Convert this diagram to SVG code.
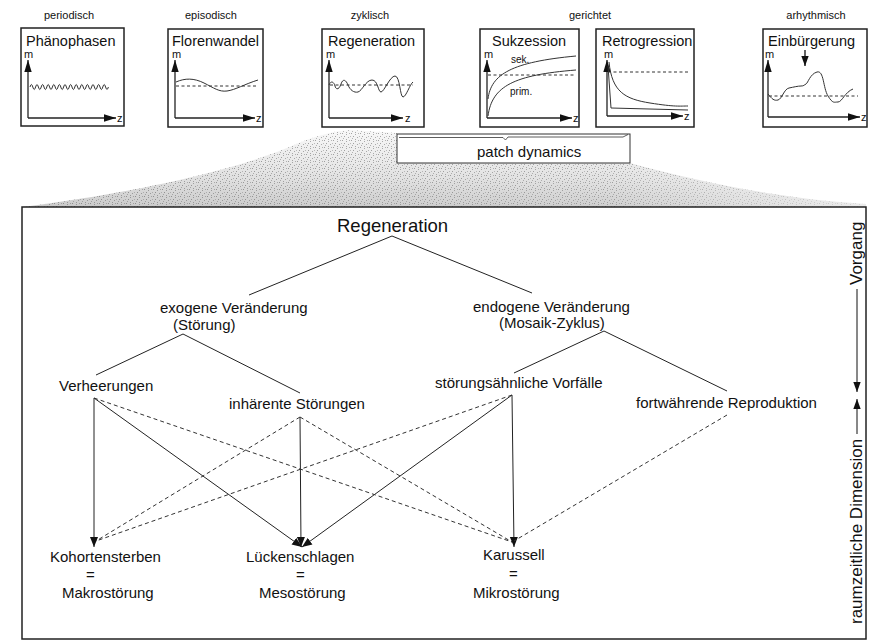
<svg xmlns="http://www.w3.org/2000/svg" width="874" height="641" viewBox="0 0 874 641">
  <style>
    text { font-family: "Liberation Sans", Arial, sans-serif; fill: #111; }
    .cat { font-size: 11px; text-anchor: middle; }
    .ptitle { font-size: 14.5px; }
    .axl { font-size: 11px; }
    .lbl { font-size: 15px; }
    .small { font-size: 10px; }
    .frame { fill: #fff; stroke: #222; stroke-width: 1.5; }
    .axis { fill: none; stroke: #222; stroke-width: 1.3; marker-end: url(#axhead); }
    .curve { fill: none; stroke: #333; stroke-width: 1; }
    .ref { fill: none; stroke: #333; stroke-width: 1; stroke-dasharray: 3 2.5; }
    .edge { fill: none; stroke: #222; stroke-width: 1; }
    .flow { fill: none; stroke: #222; stroke-width: 1; marker-end: url(#head); }
    .dash { fill: none; stroke: #333; stroke-width: 1; stroke-dasharray: 4 3; }
  </style>
  <defs>
    <marker id="axhead" viewBox="0 0 12 10" refX="12" refY="5" markerWidth="12" markerHeight="10" markerUnits="userSpaceOnUse" orient="auto">
      <path d="M0,1.3 L12,5 L0,8.7 Z" fill="#111"/>
    </marker>
    <marker id="head" viewBox="0 0 10 10" refX="10" refY="5" markerWidth="10" markerHeight="10" markerUnits="userSpaceOnUse" orient="auto">
      <path d="M0,1 L10,5 L0,9 Z" fill="#111"/>
    </marker>
    <marker id="vhead" viewBox="0 0 10 10" refX="10" refY="5" markerWidth="10" markerHeight="10" markerUnits="userSpaceOnUse" orient="auto">
      <path d="M0,1.3 L10,5 L0,8.7 Z" fill="#111"/>
    </marker>
    <!-- irregular dot tile for the stippled fan -->
    <pattern id="stipple" width="9" height="7" patternUnits="userSpaceOnUse">
      <rect x="0" y="0" width="1" height="1" fill="#555"/>
      <rect x="4" y="1" width="1" height="1" fill="#666"/>
      <rect x="7" y="0" width="1" height="1" fill="#777"/>
      <rect x="2" y="3" width="1" height="1" fill="#555"/>
      <rect x="6" y="4" width="1" height="1" fill="#666"/>
      <rect x="8" y="3" width="1" height="1" fill="#888"/>
      <rect x="1" y="5" width="1" height="1" fill="#777"/>
      <rect x="4" y="6" width="1" height="1" fill="#666"/>
    </pattern>
    <linearGradient id="haze" x1="0" y1="0" x2="0" y2="1">
      <stop offset="0" stop-color="#aaa" stop-opacity="0.1"/>
      <stop offset="0.6" stop-color="#999" stop-opacity="0.3"/>
      <stop offset="1" stop-color="#888" stop-opacity="0.45"/>
    </linearGradient>
    <linearGradient id="fade" x1="0" y1="0" x2="1" y2="0">
      <stop offset="0" stop-color="#fff" stop-opacity="1"/>
      <stop offset="0.7" stop-color="#fff" stop-opacity="0.9"/>
      <stop offset="1" stop-color="#fff" stop-opacity="0.35"/>
    </linearGradient>
    <mask id="fanmask">
      <rect x="0" y="120" width="874" height="90" fill="url(#fade)"/>
    </mask>
  </defs>

  <!-- category labels above the panels -->
  <g id="categories">
    <text class="cat" x="69" y="19">periodisch</text>
    <text class="cat" x="211" y="19">episodisch</text>
    <text class="cat" x="370" y="19">zyklisch</text>
    <text class="cat" x="590" y="19">gerichtet</text>
    <text class="cat" x="816" y="19">arhythmisch</text>
  </g>

  <!-- small time-course panels -->
  <g id="panel-phaenophasen">
    <rect class="frame" x="21" y="28" width="103" height="98"/>
    <text class="ptitle" x="26" y="46">Phänophasen</text>
    <text class="axl" x="24" y="58">m</text>
    <path class="axis" d="M28,118 V60"/>
    <path class="axis" d="M28,118 H116"/>
    <text class="axl" x="117" y="122">z</text>
    <path class="curve" d="M30,87 q1.4,-5 2.8,0 t2.8,0 t2.8,0 t2.8,0 t2.8,0 t2.8,0 t2.8,0 t2.8,0 t2.8,0 t2.8,0 t2.8,0 t2.8,0 t2.8,0 t2.8,0 t2.8,0 t2.8,0 t2.8,0 t2.8,0 t2.8,0 t2.8,0 t2.8,0 t2.8,0 t2.8,0 t2.8,0 t2.8,0 t2.8,0 t2.8,0 t2.8,0"/>
  </g>

  <g id="panel-florenwandel">
    <rect class="frame" x="168" y="29" width="95" height="98"/>
    <text class="ptitle" x="172" y="46">Florenwandel</text>
    <text class="axl" x="172" y="58">m</text>
    <path class="axis" d="M175,118 V60"/>
    <path class="axis" d="M175,118 H255"/>
    <text class="axl" x="256" y="122">z</text>
    <path class="ref" d="M176,86 H258"/>
    <path class="curve" d="M176,82 C185,78 194,78 204,83 S219,92 227,91 S245,84 258,80"/>
  </g>

  <g id="panel-regeneration">
    <rect class="frame" x="322" y="29" width="102" height="98"/>
    <text class="ptitle" x="328" y="46">Regeneration</text>
    <text class="axl" x="326" y="58">m</text>
    <path class="axis" d="M329,118 V60"/>
    <path class="axis" d="M329,118 H403"/>
    <text class="axl" x="405" y="122">z</text>
    <path class="ref" d="M330,85 H413"/>
    <path class="curve" d="M329,85 C331,80 334,82 335,86 S339,90 341,84 S346,80 348,85 S354,93 358,92 S366,80 372,80 S378,92 381,92 S390,76 395,76 S400,97 403,97 S410,84 413,82"/>
  </g>

  <g id="panel-sukzession">
    <rect class="frame" x="480" y="29" width="99" height="98"/>
    <text class="ptitle" x="492" y="46">Sukzession</text>
    <text class="axl" x="484" y="58">m</text>
    <path class="axis" d="M487,118 V60"/>
    <path class="axis" d="M487,118 H572"/>
    <text class="axl" x="573" y="122">z</text>
    <path class="ref" d="M488,75 H576"/>
    <path class="curve" d="M488,99 C491,74 512,62 576,56"/>
    <path class="curve" d="M488,116 C492,86 514,75 576,70"/>
    <text class="small" x="511" y="63">sek.</text>
    <text class="small" x="510" y="95">prim.</text>
  </g>

  <g id="panel-retrogression">
    <rect class="frame" x="596" y="29" width="98" height="98"/>
    <text class="ptitle" x="602" y="46">Retrogression</text>
    <text class="axl" x="604" y="58">m</text>
    <path class="axis" d="M607,116 V60"/>
    <path class="axis" d="M607,116 H683"/>
    <text class="axl" x="684" y="120">z</text>
    <path class="ref" d="M608,72 H690"/>
    <path class="curve" d="M609,62 C612,92 625,99 650,103 S680,106 688,106" stroke="#555"/>
    <path class="curve" d="M608,66 L611,108 L688,110"/>
  </g>

  <g id="panel-einbuergerung">
    <rect class="frame" x="763" y="29" width="104" height="98"/>
    <text class="ptitle" x="768" y="46">Einbürgerung</text>
    <text class="axl" x="765" y="58">m</text>
    <path class="axis" d="M768,117 V60"/>
    <path class="axis" d="M768,117 H860"/>
    <text class="axl" x="861" y="121">z</text>
    <path class="ref" d="M769,96 H858"/>
    <path class="curve" d="M768,94 C772,99 774,101 778,100 S784,89 789,88 S798,86 801,86 S804,85 806,84 S810,74 817,72 S823,88 828,96 S834,102 838,102 S845,92 853,89"/>
    <path d="M805,50 V66" stroke="#111" stroke-width="1.3" marker-end="url(#vhead)"/>
  </g>

  <!-- stippled fan linking the panels to the scheme below -->
  <g id="fan" mask="url(#fanmask)">
    <path d="M22,207 C110,196 220,176 292,146 C310,138 330,131 350,130 L397,133 L397,163 L630,163 C700,182 780,199 866,204 L866,207 Z" fill="url(#haze)"/>
    <path d="M22,207 C110,196 220,176 292,146 C310,138 330,131 350,130 L397,133 L397,163 L630,163 C700,182 780,199 866,204 L866,207 Z" fill="url(#stipple)" opacity="0.55"/>
  </g>

  <g id="patch-dynamics">
    <rect x="397" y="134" width="233" height="29" fill="#fff" stroke="#333" stroke-width="1"/>
    <path d="M399,137.5 H503 L505.5,140 L508,137 H623 L628,134.5" fill="none" stroke="#333" stroke-width="0.8"/>
    <text class="lbl" x="477" y="157">patch dynamics</text>
  </g>

  <!-- main scheme frame -->
  <rect id="scheme-frame" x="22" y="207" width="844" height="432" fill="#fff" stroke="#222" stroke-width="1.5"/>

  <!-- connectors -->
  <g id="connectors">
    <path class="edge" d="M392,236 L249,295"/>
    <path class="edge" d="M392,236 L532,293"/>
    <path class="edge" d="M183,334 L96,375"/>
    <path class="edge" d="M183,334 L300,393"/>
    <path class="edge" d="M604,331 L514,373"/>
    <path class="edge" d="M604,331 L727,391"/>

    <path class="flow" d="M94,398 L94,547"/>
    <path class="flow" d="M94,398 L302,547"/>
    <path class="flow" d="M300,417 L301,547"/>
    <path class="flow" d="M512,395 L302,547"/>
    <path class="flow" d="M512,395 L514,547"/>

    <path class="dash" d="M94,398 L512,542"/>
    <path class="dash" d="M300,417 L96,541"/>
    <path class="dash" d="M300,417 L512,542"/>
    <path class="dash" d="M512,395 L96,541"/>
    <path class="dash" d="M727,415 L514,541"/>
  </g>

  <!-- nodes -->
  <g id="n-regeneration"><text x="337" y="232" font-size="18.5">Regeneration</text></g>
  <g id="n-exogen">
    <text class="lbl" x="160" y="313">exogene Veränderung</text>
    <text class="lbl" x="173" y="330">(Störung)</text>
  </g>
  <g id="n-endogen">
    <text class="lbl" x="473" y="312">endogene Veränderung</text>
    <text class="lbl" x="499" y="328">(Mosaik-Zyklus)</text>
  </g>
  <g id="n-verheerungen"><text class="lbl" x="59" y="391">Verheerungen</text></g>
  <g id="n-inhaerente"><text class="lbl" x="229" y="409">inhärente Störungen</text></g>
  <g id="n-stoerungsaehnliche"><text class="lbl" x="435" y="388">störungsähnliche Vorfälle</text></g>
  <g id="n-fortwaehrende"><text class="lbl" x="636" y="408">fortwährende Reproduktion</text></g>
  <g id="n-kohortensterben">
    <text class="lbl" x="50" y="562">Kohortensterben</text>
    <text class="lbl" x="86" y="580">=</text>
    <text class="lbl" x="62" y="598">Makrostörung</text>
  </g>
  <g id="n-lueckenschlagen">
    <text class="lbl" x="246" y="562">Lückenschlagen</text>
    <text class="lbl" x="296" y="580">=</text>
    <text class="lbl" x="259" y="598">Mesostörung</text>
  </g>
  <g id="n-karussell">
    <text class="lbl" x="483" y="560">Karussell</text>
    <text class="lbl" x="509" y="579">=</text>
    <text class="lbl" x="473" y="598">Mikrostörung</text>
  </g>

  <!-- vertical axis label on the right -->
  <g id="axis-label">
    <text transform="translate(862,285) rotate(-90)" font-size="17">Vorgang</text>
    <path d="M857,289 V392" stroke="#111" stroke-width="1" marker-end="url(#vhead)"/>
    <path d="M857,434 V399" stroke="#111" stroke-width="1" marker-end="url(#vhead)"/>
    <text transform="translate(862,624) rotate(-90)" font-size="17">raumzeitliche Dimension</text>
  </g>
</svg>
